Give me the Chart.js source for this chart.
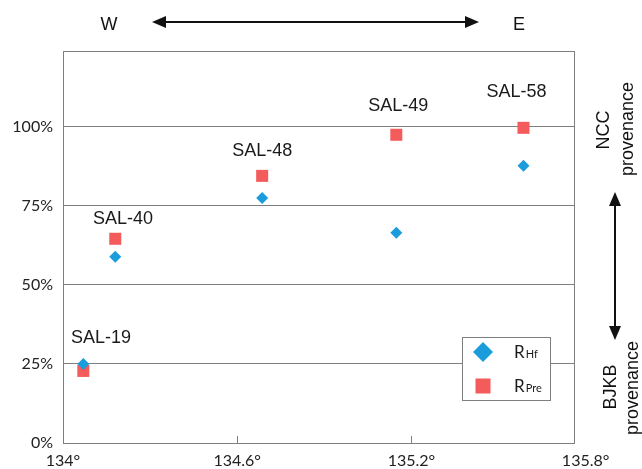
<!DOCTYPE html>
<html lang="en">
<head>
    <meta charset="UTF-8">
    <title>R Hf / R Pre vs longitude</title>
    <script src="https://cdn.jsdelivr.net/npm/chart.js"></script>
    <style>
        body { margin: 0; background: #fff; }
        #chart { display: block; }
    </style>
</head>
<body>
    <canvas id="chart" width="642" height="469"></canvas>
    <script>
        const sampleNames = ['SAL-19', 'SAL-40', 'SAL-48', 'SAL-49', 'SAL-58'];
        const longitude = [134.07, 134.18, 134.686, 135.148, 135.586];
        const rHf = [25.0, 58.9, 77.5, 66.5, 87.7];
        const rPre = [22.8, 64.6, 84.5, 97.5, 99.7];
        // where each sample name sits, in axis units
        const labelLon = [134.131, 134.207, 134.686, 135.155, 135.562];
        const labelPct = [33.7, 71.2, 92.9, 107.0, 111.6];
        const xTickValues = [134, 134.6, 135.2, 135.8];
        const yTickValues = [0, 25, 50, 75, 100];

        const blue = '#1b9ddc';
        const red = '#f45b5b';
        const lineGray = '#7f7f7f';
        const labelFont = '18px "Liberation Sans", Arial, sans-serif';

        function arrow(ctx, x1, y1, x2, y2) {
            const head = 14, half = 6;
            const ang = Math.atan2(y2 - y1, x2 - x1);
            const ux = Math.cos(ang), uy = Math.sin(ang);
            ctx.lineWidth = 2;
            ctx.beginPath();
            ctx.moveTo(x1 + ux * head * 0.8, y1 + uy * head * 0.8);
            ctx.lineTo(x2 - ux * head * 0.8, y2 - uy * head * 0.8);
            ctx.stroke();
            [[x1, y1, -1], [x2, y2, 1]].forEach(([x, y, d]) => {
                const bx = x - d * ux * head, by = y - d * uy * head;
                ctx.beginPath();
                ctx.moveTo(x, y);
                ctx.lineTo(bx - uy * half, by + ux * half);
                ctx.lineTo(bx + uy * half, by - ux * half);
                ctx.closePath();
                ctx.fill();
            });
        }

        function vText(ctx, text, x, y) {
            ctx.save();
            ctx.translate(x, y);
            ctx.rotate(-Math.PI / 2);
            ctx.fillText(text, 0, 0);
            ctx.restore();
        }

        const decor = {
            id: 'decor',
            afterDraw(chart) {
                const ctx = chart.ctx;
                const a = chart.chartArea;
                const xs = chart.scales.x, ys = chart.scales.y;
                ctx.save();

                // frame
                ctx.strokeStyle = lineGray;
                ctx.lineWidth = 1;
                ctx.strokeRect(Math.round(a.left) + 0.5, Math.round(a.top) + 0.5,
                    Math.round(a.right - a.left), Math.round(a.bottom - a.top));

                // small inward ticks on the x axis
                ctx.beginPath();
                xTickValues.forEach(v => {
                    const px = Math.round(xs.getPixelForValue(v)) + 0.5;
                    if (px > a.left + 2 && px < a.right - 2) {
                        ctx.moveTo(px, a.bottom);
                        ctx.lineTo(px, a.bottom - 7);
                    }
                });
                ctx.stroke();

                // sample names
                ctx.fillStyle = '#1a1a1a';
                ctx.font = labelFont;
                ctx.textAlign = 'center';
                ctx.textBaseline = 'alphabetic';
                sampleNames.forEach((name, i) => {
                    ctx.fillText(name, xs.getPixelForValue(labelLon[i]), ys.getPixelForValue(labelPct[i]) + 6.5);
                });

                // legend
                const lx = a.right - 112, ly = a.bottom - 106;
                ctx.fillStyle = '#fff';
                ctx.fillRect(lx, ly, 88, 63);
                ctx.strokeStyle = lineGray;
                ctx.strokeRect(lx + 0.5, ly + 0.5, 88, 63);
                ctx.fillStyle = blue;
                ctx.beginPath();
                ctx.moveTo(lx + 21, ly + 5);
                ctx.lineTo(lx + 31, ly + 15);
                ctx.lineTo(lx + 21, ly + 25);
                ctx.lineTo(lx + 11, ly + 15);
                ctx.closePath();
                ctx.fill();
                ctx.fillStyle = red;
                ctx.fillRect(lx + 13.5, ly + 41.5, 15, 15);
                ctx.fillStyle = '#1a1a1a';
                ctx.textAlign = 'left';
                [['Hf', ly + 21], ['Pre', ly + 55]].forEach(([sub, by]) => {
                    ctx.font = '17px Lato, sans-serif';
                    ctx.fillText('R', lx + 52, by);
                    const w = ctx.measureText('R').width;
                    ctx.font = '11px Lato, sans-serif';
                    ctx.fillText(sub, lx + 52 + w + 1, by);
                });

                // W - E arrow on top
                ctx.fillStyle = '#111';
                ctx.strokeStyle = '#111';
                ctx.font = labelFont;
                ctx.textAlign = 'center';
                ctx.textBaseline = 'middle';
                ctx.fillText('W', 109, 25);
                ctx.fillText('E', 519, 25);
                arrow(ctx, 152, 22, 479, 22);

                // provenance notes on the right
                vText(ctx, 'NCC', 604, 130);
                vText(ctx, 'provenance', 628, 129);
                vText(ctx, 'BJKB', 611, 387);
                vText(ctx, 'provenance', 633, 388);
                arrow(ctx, 615, 192, 615, 340);

                ctx.restore();
            }
        };

        const tickFont = { family: 'Lato', size: 16 };

        new Chart(document.getElementById('chart'), {
            type: 'scatter',
            data: {
                datasets: [
                    {
                        label: 'RHf',
                        data: longitude.map((x, i) => ({ x: x, y: rHf[i] })),
                        pointStyle: 'rectRot',
                        pointRadius: 6,
                        pointHoverRadius: 6,
                        backgroundColor: blue,
                        borderWidth: 0
                    },
                    {
                        label: 'RPre',
                        data: longitude.map((x, i) => ({ x: x, y: rPre[i] })),
                        pointStyle: 'rect',
                        pointRadius: 8.5,
                        pointHoverRadius: 8.5,
                        backgroundColor: red,
                        borderWidth: 0
                    }
                ]
            },
            options: {
                responsive: false,
                animation: false,
                devicePixelRatio: 1,
                layout: { padding: { top: 51, right: 68, left: 0, bottom: 0 } },
                plugins: {
                    legend: { display: false },
                    tooltip: { enabled: false }
                },
                scales: {
                    x: {
                        type: 'linear',
                        min: 134,
                        max: 135.76,
                        afterBuildTicks: s => { s.ticks = xTickValues.map(v => ({ value: v })); },
                        afterFit: s => { s.height = 26; },
                        grid: { display: false, drawTicks: false },
                        border: { display: false },
                        ticks: {
                            autoSkip: false,
                            maxRotation: 0,
                            padding: 8,
                            color: '#222',
                            font: tickFont,
                            callback: v => v + '\u00B0'
                        }
                    },
                    y: {
                        min: 0,
                        max: 124,
                        afterBuildTicks: s => { s.ticks = yTickValues.map(v => ({ value: v })); },
                        afterFit: s => { s.width = 63; },
                        grid: { color: lineGray, lineWidth: 1, drawTicks: false },
                        border: { display: false },
                        ticks: {
                            padding: 10,
                            color: '#222',
                            font: tickFont,
                            callback: v => v + '%'
                        }
                    }
                }
            },
            plugins: [decor]
        });
    </script>
</body>
</html>
